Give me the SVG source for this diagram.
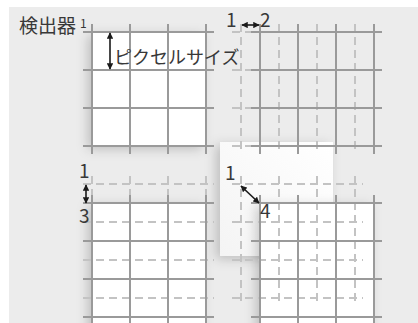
<svg xmlns="http://www.w3.org/2000/svg" width="418" height="323" viewBox="0 0 418 323">
  <style>
    .solid { fill: none; stroke: #9a9a9a; stroke-width: 2; }
    .dash { fill: none; stroke: #c3c3c3; stroke-width: 2; stroke-dasharray: 8 5; }
    .sq { fill: #ffffff; filter: url(#sh); }
    .arr { stroke: #1a1a1a; stroke-width: 1.6; fill: none; marker-start: url(#ah); marker-end: url(#ah); }
    .t { font-family: "Noto Sans CJK JP", "Noto Sans", sans-serif; fill: #383838; }
    .big { font-size: 19px; }
  </style>
  <defs>
    <filter id="sh" x="-30%" y="-30%" width="160%" height="160%">
      <feGaussianBlur in="SourceAlpha" stdDeviation="6"/>
      <feOffset dx="-4" dy="3" result="b"/>
      <feFlood flood-color="#000000" flood-opacity="0.2"/>
      <feComposite in2="b" operator="in"/>
      <feMerge><feMergeNode/><feMergeNode in="SourceGraphic"/></feMerge>
    </filter>
    <linearGradient id="wg" x1="1" y1="0" x2="0" y2="1">
      <stop offset="0" stop-color="#ffffff"/>
      <stop offset="1" stop-color="#f4f4f4"/>
    </linearGradient>
    <marker id="ah" viewBox="0 0 10 10" refX="9" refY="5" markerWidth="4" markerHeight="4" orient="auto-start-reverse">
      <path d="M0,0 L10,5 L0,10 z" fill="#1a1a1a"/>
    </marker>
    <path id="grid" d="M0,-8V122 M38,-8V122 M76,-8V122 M114,-8V122 M-9,0H122 M-9,38H122 M-9,76H122 M-9,114H122"/>
  </defs>

  <rect x="9" y="7" width="409" height="316" fill="#ececec"/>

  <!-- white areas -->
  <rect id="overlap" x="220" y="142" width="113" height="114" fill="url(#wg)" filter="url(#sh)"/>
  <rect class="sq" x="92" y="32" width="114" height="114"/>
  <rect class="sq" x="92" y="203" width="114" height="130"/>
  <rect class="sq" x="260" y="203" width="114" height="130"/>

  <!-- detector 1 -->
  <g id="detector1">
    <use href="#grid" class="solid" x="92" y="32"/>
  </g>
  <!-- detector 2 -->
  <g id="detector2">
    <use href="#grid" class="dash" x="241" y="32"/>
    <use href="#grid" class="solid" x="260" y="32"/>
  </g>
  <!-- detector 3 -->
  <g id="detector3">
    <use href="#grid" class="dash" x="92" y="184"/>
    <use href="#grid" class="solid" x="92" y="203"/>
  </g>
  <!-- detector 4 -->
  <g id="detector4">
    <use href="#grid" class="dash" x="241" y="184"/>
    <use href="#grid" class="solid" x="260" y="203"/>
  </g>

  <!-- arrows -->
  <g id="connectors">
    <line class="arr" x1="110" y1="33" x2="110" y2="69"/>
    <line class="arr" x1="242" y1="25" x2="259" y2="25"/>
    <line class="arr" x1="86" y1="185" x2="86" y2="203"/>
    <line class="arr" x1="241" y1="186" x2="259" y2="203"/>
  </g>

  <!-- labels -->
  <g id="labels">
    <text class="t big" x="19" y="33">検出器</text>
    <text class="t" x="80" y="28" font-size="12">1</text>
    <text class="t" x="114" y="64" font-size="18">ピクセルサイズ</text>
    <text class="t big" x="226" y="27">1</text>
    <text class="t big" x="260" y="27">2</text>
    <text class="t big" x="79" y="178">1</text>
    <text class="t big" x="79" y="223">3</text>
    <text class="t big" x="225" y="180">1</text>
    <text class="t big" x="260" y="218">4</text>
  </g>
</svg>
